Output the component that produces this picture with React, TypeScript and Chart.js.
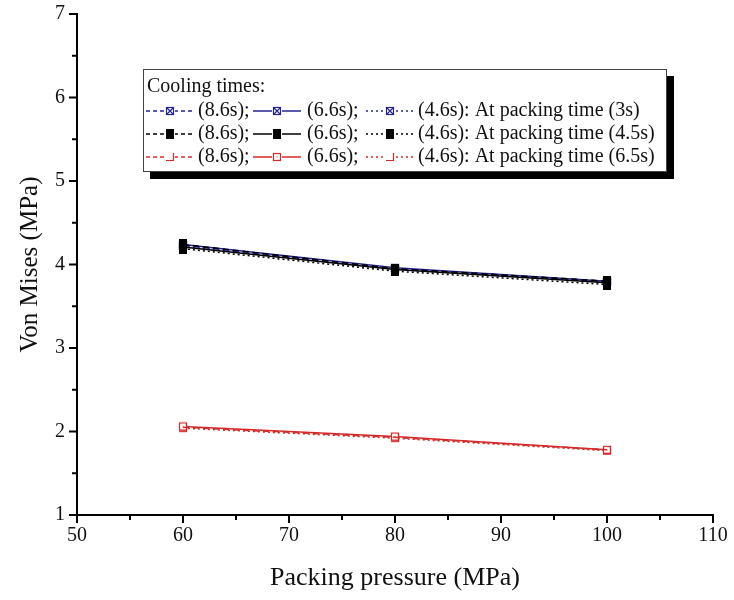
import React, { useEffect, useRef } from "react";
import { Chart, registerables } from "chart.js";

Chart.register(...registerables);

const pressures = [60, 80, 100];
const xTicksMajor = [50, 60, 70, 80, 90, 100, 110];
const yTicksMajor = [1, 2, 3, 4, 5, 6, 7];

// Packing time 3s (blue)
const blue86 = [4.23, 3.95, 3.8];
const blue66 = [4.24, 3.96, 3.8];
const blue46 = [4.22, 3.94, 3.79];
// Packing time 4.5s (black)
const black86 = [4.24, 3.95, 3.8];
const black66 = [4.21, 3.94, 3.78];
const black46 = [4.19, 3.92, 3.76];
// Packing time 6.5s (red)
const red86 = [2.05, 1.93, 1.78];
const red66 = [2.06, 1.94, 1.78];
const red46 = [2.04, 1.92, 1.77];

const coolingLabels = ["(8.6s);", "(6.6s);", "(4.6s): At packing time"];
const packingLabels = ["(3s)", "(4.5s)", "(6.5s)"];

const FONT = "'Liberation Serif', 'Times New Roman', serif";
const BLUE = "#24248f";
const BLACK = "#000000";
const RED = "#d42a2a";
const DASHES: number[][] = [[6, 4], [], [2, 3]];

type MarkerKind = "xbox" | "fill" | "open" | "corner";

function makeMarker(kind: MarkerKind, color: string, s = 10): HTMLCanvasElement {
  const c = document.createElement("canvas");
  c.width = s;
  c.height = s;
  const ctx = c.getContext("2d")!;
  ctx.strokeStyle = color;
  ctx.fillStyle = color;
  ctx.lineWidth = 1.2;
  if (kind === "fill") {
    ctx.fillRect(1, 0, s - 2, s);
  } else if (kind === "xbox") {
    ctx.strokeRect(1.5, 1.5, s - 3, s - 3);
    ctx.beginPath();
    ctx.moveTo(1.5, 1.5);
    ctx.lineTo(s - 1.5, s - 1.5);
    ctx.moveTo(s - 1.5, 1.5);
    ctx.lineTo(1.5, s - 1.5);
    ctx.stroke();
  } else if (kind === "open") {
    ctx.fillStyle = "#fff";
    ctx.fillRect(1.5, 1.5, s - 3, s - 3);
    ctx.strokeRect(1.5, 1.5, s - 3, s - 3);
    ctx.fillStyle = color;
    ctx.fillRect(s / 2 - 0.5, s / 2 - 0.5, 1, 1);
  } else {
    ctx.beginPath();
    ctx.moveTo(1, s - 1.5);
    ctx.lineTo(s - 1.5, s - 1.5);
    ctx.lineTo(s - 1.5, 1);
    ctx.stroke();
  }
  return c;
}

export default function App() {
  const ref = useRef<HTMLCanvasElement | null>(null);

  useEffect(() => {
    if (!ref.current) return;
    const colors = [BLUE, BLACK, RED];
    const kinds: MarkerKind[][] = [
      ["xbox", "xbox", "xbox"],
      ["fill", "fill", "fill"],
      ["corner", "open", "corner"],
    ];
    const markers = colors.map((c, i) => kinds[i].map((k) => makeMarker(k, c, 10)));
    const groups = [
      [blue86, blue66, blue46],
      [black86, black66, black46],
      [red86, red66, red46],
    ];
    const orders = [1, 0, 2];
    const datasets: any[] = [];
    groups.forEach((g, gi) => {
      g.forEach((vals, si) => {
        datasets.push({
          label: `${coolingLabels[si]} ${packingLabels[gi]}`,
          data: pressures.map((x, k) => ({ x, y: vals[k] })),
          borderColor: colors[gi],
          backgroundColor: colors[gi],
          borderWidth: 1.5,
          borderDash: DASHES[si],
          pointStyle: markers[gi][si],
          pointRadius: 5,
          order: orders[gi],
          tension: 0,
          fill: false,
        });
      });
    });

    const tickPlugin = {
      id: "minorTicks",
      afterDraw(chart: any) {
        const ctx = chart.ctx;
        const area = chart.chartArea;
        const xs = chart.scales.x;
        const ys = chart.scales.y;
        ctx.save();
        ctx.strokeStyle = "#000";
        ctx.lineWidth = 2;
        xs.ticks.forEach((t: any) => {
          const px = xs.getPixelForValue(t.value);
          const len = xTicksMajor.includes(t.value) ? 8 : 5;
          ctx.beginPath();
          ctx.moveTo(px, area.bottom);
          ctx.lineTo(px, area.bottom + len);
          ctx.stroke();
        });
        ys.ticks.forEach((t: any) => {
          const py = ys.getPixelForValue(t.value);
          const len = yTicksMajor.includes(t.value) ? 8 : 5;
          ctx.beginPath();
          ctx.moveTo(area.left - len, py);
          ctx.lineTo(area.left, py);
          ctx.stroke();
        });
        ctx.restore();
      },
    };

    const legendPlugin = {
      id: "customLegend",
      afterDraw(chart: any) {
        const ctx = chart.ctx;
        const bx = 143, by = 69, bw = 524, bh = 103, sh = 7;
        ctx.save();
        ctx.fillStyle = "#000";
        ctx.fillRect(bx + sh, by + sh, bw, bh);
        ctx.fillStyle = "#fff";
        ctx.fillRect(bx, by, bw, bh);
        ctx.strokeStyle = "#444";
        ctx.lineWidth = 1;
        ctx.strokeRect(bx + 0.5, by + 0.5, bw - 1, bh - 1);
        ctx.font = `20px ${FONT}`;
        ctx.textBaseline = "middle";
        ctx.textAlign = "left";
        ctx.fillStyle = "#111";
        ctx.fillText("Cooling times:", 147, 87);
        const rowsY = [111, 134, 157];
        const sampleX = [146, 253, 366];
        const textX = [198, 307, 418];
        const sampleW = 48;
        rowsY.forEach((ry, gi) => {
          for (let si = 0; si < 3; si++) {
            const sx = sampleX[si];
            ctx.save();
            ctx.strokeStyle = colors[gi];
            ctx.lineWidth = 1.3;
            ctx.setLineDash(si === 0 ? [4, 3] : si === 2 ? [2, 3] : []);
            ctx.beginPath();
            ctx.moveTo(sx, ry);
            ctx.lineTo(sx + sampleW, ry);
            ctx.stroke();
            ctx.restore();
            const m = markers[gi][si];
            ctx.fillStyle = "#fff";
            ctx.fillRect(sx + sampleW / 2 - 5, ry - 5, 10, 10);
            ctx.drawImage(m, sx + sampleW / 2 - 5, ry - 5);
            ctx.fillStyle = "#111";
            const txt = si < 2 ? coolingLabels[si] : `${coolingLabels[si]} ${packingLabels[gi]}`;
            ctx.fillText(txt, textX[si], ry);
          }
        });
        ctx.restore();
      },
    };

    const chart = new Chart(ref.current, {
      type: "line",
      data: { datasets },
      plugins: [tickPlugin, legendPlugin],
      options: {
        animation: false,
        responsive: false,
        layout: { padding: { top: 14, right: 21, left: 0, bottom: 0 } },
        plugins: { legend: { display: false }, tooltip: { enabled: false } },
        scales: {
          x: {
            type: "linear",
            min: 50,
            max: 110,
            afterFit: (s: any) => {
              s.height = 85;
              s.paddingRight = 0;
              s.paddingLeft = 0;
            },
            ticks: {
              stepSize: 5,
              padding: 9,
              color: "#111",
              font: { family: FONT, size: 20 },
              maxRotation: 0,
              autoSkip: false,
              callback: (v: any) => (xTicksMajor.includes(Number(v)) ? String(v) : ""),
            },
            grid: { display: true, drawOnChartArea: false, drawTicks: false, color: "rgba(0,0,0,0)" },
            border: { display: true, color: "#000", width: 2 },
            title: {
              display: true,
              text: "Packing pressure (MPa)",
              color: "#111",
              font: { family: FONT, size: 26 },
              padding: { top: 0, bottom: 6 },
            },
          },
          y: {
            type: "linear",
            min: 1,
            max: 7,
            afterFit: (s: any) => {
              s.width = 77;
              s.paddingTop = 0;
              s.paddingBottom = 0;
            },
            ticks: {
              stepSize: 0.5,
              padding: 12,
              color: "#111",
              font: { family: FONT, size: 20 },
              autoSkip: false,
              callback: (v: any) => (yTicksMajor.includes(Number(v)) ? String(v) : ""),
            },
            grid: { display: true, drawOnChartArea: false, drawTicks: false, color: "rgba(0,0,0,0)" },
            border: { display: true, color: "#000", width: 2 },
            title: {
              display: true,
              text: "Von Mises (MPa)",
              color: "#111",
              font: { family: FONT, size: 25 },
              padding: { top: 15, bottom: 0 },
            },
          },
        },
      },
    });
    return () => chart.destroy();
  }, []);

  return (
    <div style={{ position: "absolute", left: 0, top: 0, width: 734, height: 600, background: "#fff" }}>
      <canvas ref={ref} width={734} height={600} />
    </div>
  );
}
